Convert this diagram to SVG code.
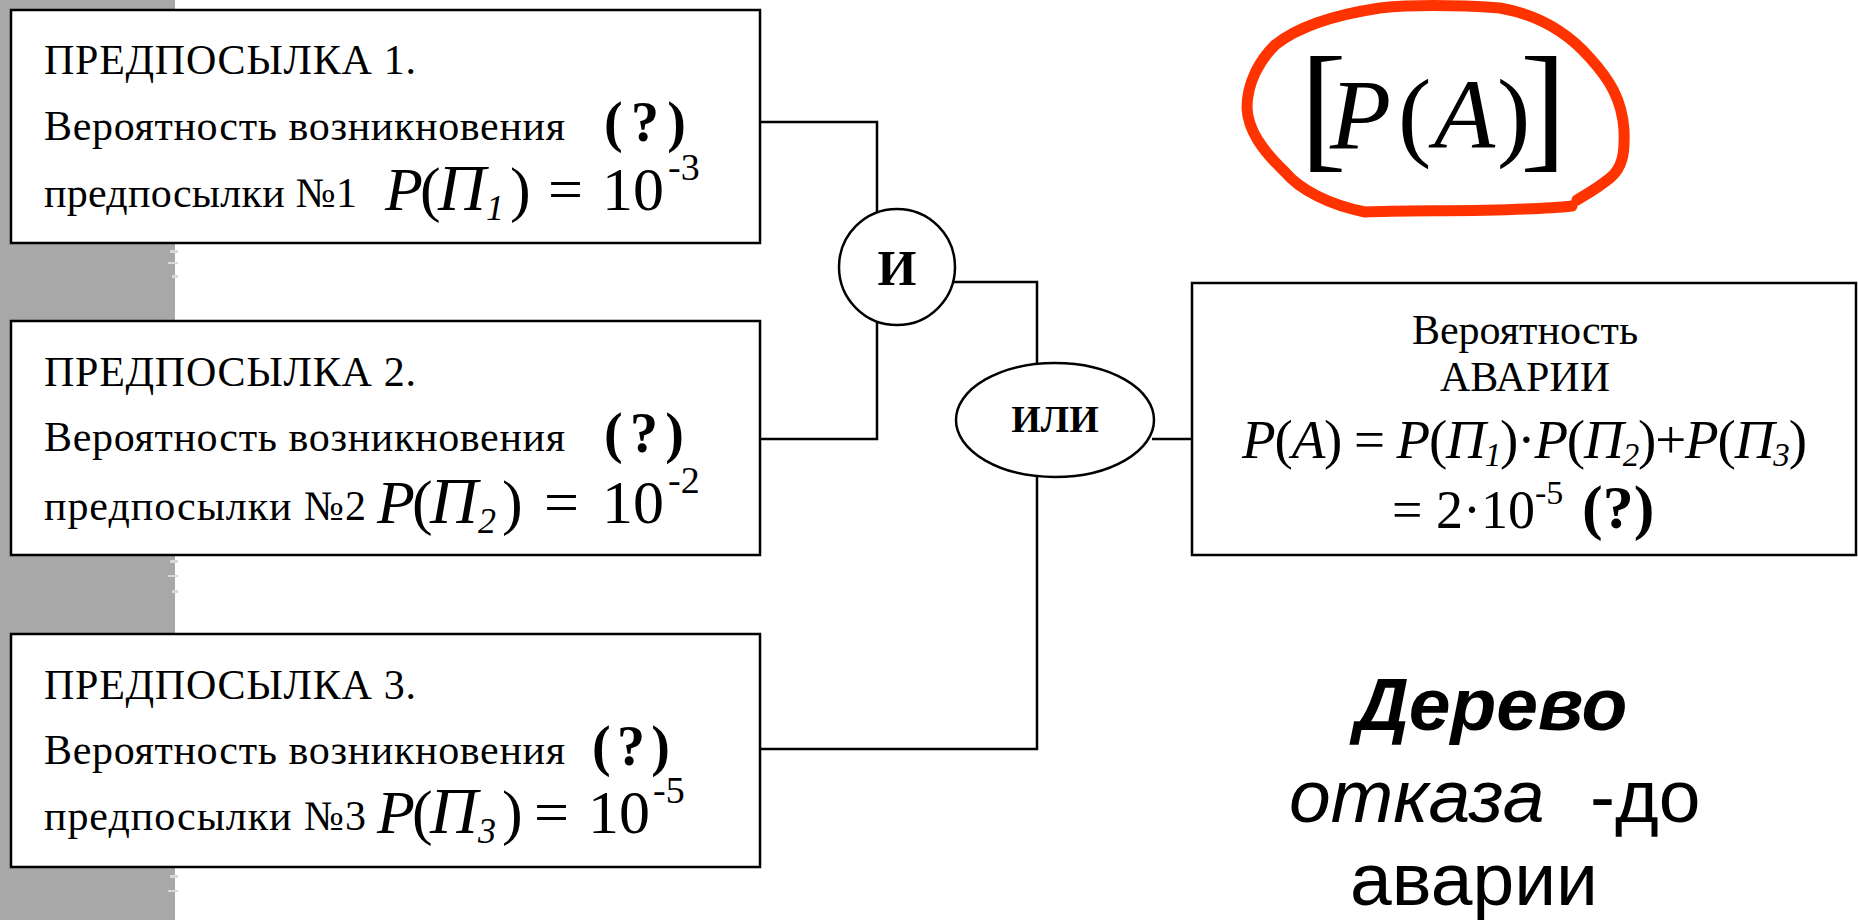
<svg xmlns="http://www.w3.org/2000/svg" width="1858" height="920" viewBox="0 0 1858 920">
<style>
.box{fill:#fff;stroke:#000;stroke-width:2.5}
.gate{fill:#fff;stroke:#000;stroke-width:2.5}
.ln{fill:none;stroke:#000;stroke-width:2.5}
.t{font-family:"Liberation Serif","Times New Roman",serif;font-size:42px;fill:#000}
.f{font-family:"Liberation Serif","Times New Roman",serif;font-size:62px;fill:#000}
.f .pi{font-size:66px;font-style:italic}
.f .sb{font-size:36px;font-style:italic}
.f .sp{font-size:38px}
.q{font-family:"Liberation Serif","Times New Roman",serif;font-size:56px;font-weight:bold;fill:#000}
.i{font-style:italic}
.g{font-family:"Liberation Serif","Times New Roman",serif;font-weight:bold;fill:#000;text-anchor:middle}
.s{font-family:"Liberation Sans",Arial,sans-serif;font-size:75px;fill:#000}
</style>
<rect x="0" y="0" width="1858" height="920" fill="#fff"/>
<g id="strip">
<rect x="0" y="0" width="175" height="920" fill="#a8a8a8"/>
<path d="M170,250 h8 v3 h-8 z M168,262 h10 v2 h-10 z M172,275 h6 v3 h-6 z M170,560 h8 v3 h-8 z M168,575 h10 v2 h-10 z M172,590 h6 v3 h-6 z M170,875 h8 v3 h-8 z M168,890 h10 v2 h-10 z" fill="#d8d8d8"/>
</g>
<g id="connectors">
<path class="ln" d="M760,122 H877 V213"/>
<path class="ln" d="M877,321 V439 H760"/>
<path class="ln" d="M954,282 H1037 V365"/>
<path class="ln" d="M1037,477 V749 H760"/>
<path class="ln" d="M1152,439 H1192"/>
</g>
<g id="premise1">
<rect class="box" x="11" y="10" width="749" height="233"/>
<text class="t" x="44" y="74" textLength="372">ПРЕДПОСЫЛКА 1.</text>
<text class="t" x="44" y="140" textLength="521">Вероятность возникновения</text>
<text class="q" x="604" y="141" textLength="82">(?)</text>
<text class="t" x="44" y="207" textLength="313">предпосылки №1</text>
<text class="f"><tspan x="385" y="210" class="i">P</tspan><tspan x="420" y="210">(</tspan><tspan x="438" y="210" class="pi">П</tspan><tspan x="486" y="220" class="sb">1</tspan><tspan x="510" y="210">)</tspan><tspan x="548" y="210">=</tspan><tspan x="602" y="210">10</tspan><tspan x="668" y="180" class="sp">-3</tspan></text>
</g>
<g id="premise2">
<rect class="box" x="11" y="321" width="749" height="234"/>
<text class="t" x="44" y="386" textLength="372">ПРЕДПОСЫЛКА 2.</text>
<text class="t" x="44" y="451" textLength="521">Вероятность возникновения</text>
<text class="q" x="604" y="452" textLength="80">(?)</text>
<text class="t" x="44" y="520" textLength="322">предпосылки №2</text>
<text class="f"><tspan x="377" y="523" class="i">P</tspan><tspan x="412" y="523">(</tspan><tspan x="430" y="523" class="pi">П</tspan><tspan x="478" y="533" class="sb">2</tspan><tspan x="502" y="523">)</tspan><tspan x="544" y="523">=</tspan><tspan x="602" y="523">10</tspan><tspan x="668" y="493" class="sp">-2</tspan></text>
</g>
<g id="premise3">
<rect class="box" x="11" y="634" width="749" height="233"/>
<text class="t" x="44" y="699" textLength="372">ПРЕДПОСЫЛКА 3.</text>
<text class="t" x="44" y="764" textLength="521">Вероятность возникновения</text>
<text class="q" x="592" y="765" textLength="78">(?)</text>
<text class="t" x="44" y="830" textLength="322">предпосылки №3</text>
<text class="f"><tspan x="377" y="833" class="i">P</tspan><tspan x="412" y="833">(</tspan><tspan x="430" y="833" class="pi">П</tspan><tspan x="478" y="843" class="sb">3</tspan><tspan x="502" y="833">)</tspan><tspan x="534" y="833">=</tspan><tspan x="588" y="833">10</tspan><tspan x="653" y="803" class="sp">-5</tspan></text>
</g>
<g id="and-gate">
<circle class="gate" cx="897" cy="267" r="58"/>
<text class="g" x="897" y="285" font-size="50">И</text>
</g>
<g id="or-gate">
<ellipse class="gate" cx="1055" cy="420" rx="99" ry="57"/>
<text class="g" x="1055" y="432" font-size="38">ИЛИ</text>
</g>
<g id="accident">
<rect class="box" x="1192" y="283" width="664" height="272"/>
<text class="t" x="1525" y="344" text-anchor="middle">Вероятность</text>
<text class="t" x="1525" y="391" text-anchor="middle">АВАРИИ</text>
<text class="t" style="font-size:55px" x="1242" y="458" textLength="565"><tspan class="i">P</tspan>(<tspan class="i">A</tspan>) = <tspan class="i">P</tspan>(<tspan class="i">П</tspan><tspan class="i" font-size="33" dy="8">1</tspan><tspan dy="-8">)·</tspan><tspan class="i">P</tspan>(<tspan class="i">П</tspan><tspan class="i" font-size="33" dy="8">2</tspan><tspan dy="-8">)+</tspan><tspan class="i">P</tspan>(<tspan class="i">П</tspan><tspan class="i" font-size="33" dy="8">3</tspan><tspan dy="-8">)</tspan></text>
<text class="t" style="font-size:54px" x="1392" y="528">= 2·10<tspan font-size="34" dy="-24">-5</tspan><tspan x="1582" y="528" font-weight="bold" font-size="62">(?)</tspan></text>
</g>
<g id="highlight">
<path d="M1572,206 C1520,212 1420,210 1365,212 C1330,205 1300,190 1285,172 C1262,150 1248,130 1247,108 C1247,82 1260,60 1275,45 C1300,25 1340,14 1380,8 C1420,4 1470,6 1500,8 C1540,15 1570,35 1590,58 C1610,80 1622,100 1624,130 C1625,155 1622,168 1610,178 C1595,190 1585,195 1577,200" fill="none" stroke="#ff3300" stroke-width="11" stroke-linecap="round" stroke-linejoin="round"/>
<text font-family="'Liberation Serif','Times New Roman',serif" fill="#000"><tspan x="1300" y="153" font-size="140">[</tspan><tspan x="1330" y="148" font-size="100" font-style="italic">P</tspan><tspan x="1398" y="148" font-size="100">(</tspan><tspan x="1434" y="148" font-size="100" font-style="italic">A</tspan><tspan x="1497" y="148" font-size="100">)</tspan><tspan x="1520" y="153" font-size="140">]</tspan></text>
</g>
<g id="caption">
<text class="s" x="1491" y="730" font-weight="bold" font-style="italic" text-anchor="middle">Дерево</text>
<text class="s" x="1289" y="822" font-style="italic">отказа</text>
<text class="s" x="1590" y="822">-до</text>
<text class="s" x="1474" y="905" text-anchor="middle">аварии</text>
</g>
</svg>
